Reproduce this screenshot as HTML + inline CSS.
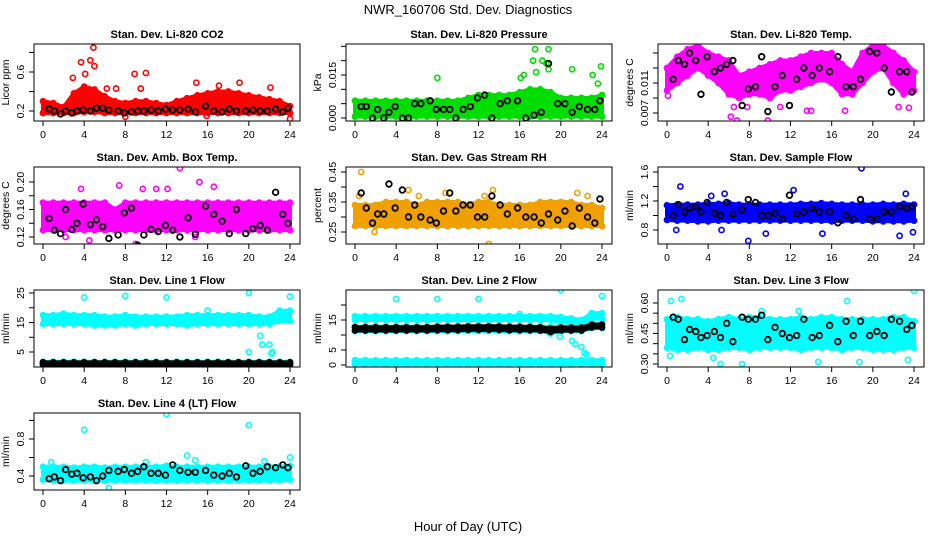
<!DOCTYPE html>
<html><head><meta charset="utf-8">
<style>
body{margin:0;background:#fff;}
svg{display:block;font-family:"Liberation Sans",sans-serif;}
</style></head>
<body>
<svg id="chart" width="936" height="540" viewBox="0 0 936 540" xmlns="http://www.w3.org/2000/svg">
<rect width="936" height="540" fill="#fff"/>
<text x="468" y="14" font-size="13" text-anchor="middle">NWR_160706  Std. Dev. Diagnostics</text>
<text x="468" y="531" font-size="13" text-anchor="middle">Hour of Day (UTC)</text>
</svg>
<script>
const hours = [0,1,2,3,4,5,6,7,8,9,10,11,12,13,14,15,16,17,18,19,20,21,22,23,24];
const blackHours = [0.6,1.1,1.7,2.2,2.8,3.3,3.9,4.6,5.2,5.8,6.4,7.3,7.9,8.6,9.2,9.8,10.5,11.2,11.9,12.6,13.3,14.1,14.8,15.8,16.6,17.4,18.1,18.8,19.7,20.4,21.1,21.8,22.6,23.3,23.8];
const xTicks = [0,4,8,12,16,20,24];

// Panel 1: CO2
const co2Lo = [0.18,0.18,0.18,0.18,0.19,0.19,0.18,0.18,0.18,0.18,0.18,0.18,0.18,0.18,0.18,0.18,0.18,0.18,0.18,0.18,0.18,0.18,0.18,0.18,0.18];
const co2Hi = [0.30,0.28,0.24,0.38,0.45,0.42,0.35,0.30,0.28,0.30,0.30,0.28,0.26,0.30,0.33,0.36,0.38,0.40,0.40,0.38,0.36,0.34,0.32,0.30,0.25];
const co2OutH = [4.9,4.6,3.7,5.0,4.1,2.9,8.9,10,14.9,19.1,17.1,22.1,24,8,15.9,6.2,7.1,9.5];
const co2OutV = [0.85,0.72,0.70,0.66,0.58,0.54,0.58,0.59,0.49,0.49,0.46,0.44,0.12,0.14,0.15,0.43,0.43,0.43];
const co2Black = [0.22,0.2,0.17,0.2,0.18,0.2,0.21,0.2,0.23,0.23,0.21,0.2,0.18,0.19,0.2,0.2,0.21,0.2,0.22,0.21,0.21,0.22,0.19,0.25,0.2,0.19,0.22,0.2,0.2,0.21,0.2,0.2,0.22,0.19,0.23];

// Panel 2: Pressure
const prLo = [0.0005,0.0005,0.0005,0.0005,0.0005,0.0005,0.0005,0.0005,0.0005,0.0005,0.0005,0.0005,0.0005,0.0005,0.0005,0.0005,0.0005,0.0005,0.0005,0.0005,0.0005,0.0005,0.0005,0.0005,0.0005];
const prHi = [0.006,0.006,0.006,0.006,0.006,0.006,0.006,0.006,0.006,0.006,0.006,0.007,0.008,0.008,0.008,0.008,0.009,0.010,0.010,0.009,0.007,0.007,0.007,0.007,0.008];
const prOutH = [17.5,18.8,17.3,18.2,18.6,17.6,18.8,8,16.1,16.4,21.1,23.9,23.1,23.6];
const prOutV = [0.024,0.024,0.020,0.020,0.019,0.016,0.017,0.014,0.014,0.015,0.017,0.018,0.015,0.012];
const prBlack = [0.004,0.004,0.0,0.003,0.0,0.002,0.004,0.0,0.0,0.005,0.005,0.006,0.003,0.003,0.003,0.0,0.003,0.004,0.007,0.008,0.0,0.005,0.006,0.006,0.0,0.001,0.002,0.019,0.005,0.005,0.002,0.004,0.003,0.003,0.006];

// Panel 3: Li-820 Temp
const ltLo = [0.010,0.011,0.012,0.013,0.012,0.011,0.0095,0.009,0.0095,0.0095,0.009,0.010,0.010,0.0105,0.011,0.0115,0.011,0.0095,0.0095,0.011,0.0125,0.013,0.011,0.0095,0.010];
const ltHi = [0.013,0.0145,0.0155,0.016,0.015,0.0145,0.014,0.012,0.0125,0.013,0.0135,0.014,0.014,0.0145,0.015,0.015,0.015,0.0135,0.0125,0.015,0.016,0.016,0.015,0.014,0.0125];
const ltOutH = [0.1,6.2,6.8,9.8,13.6,14,17.3,22.5,23.5,6.5,7.8,11];
const ltOutV = [0.0093,0.0065,0.006,0.006,0.0073,0.0073,0.0073,0.0078,0.0077,0.0078,0.0078,0.0078];
const ltBlack = [0.0115,0.0140,0.0135,0.0150,0.0140,0.0095,0.0145,0.0125,0.0130,0.0135,0.0140,0.0080,0.0102,0.0105,0.0145,0.0072,0.0105,0.0120,0.0080,0.0115,0.0130,0.0120,0.0130,0.0125,0.0145,0.0105,0.0105,0.0115,0.0152,0.0150,0.0130,0.0098,0.0125,0.0125,0.0098];

// Panel 4: Amb box temp
const abLo = [0.13,0.13,0.13,0.13,0.13,0.13,0.13,0.13,0.13,0.13,0.13,0.13,0.13,0.13,0.13,0.13,0.13,0.13,0.13,0.13,0.13,0.13,0.13,0.13,0.13];
const abHi = [0.17,0.17,0.17,0.17,0.17,0.17,0.17,0.16,0.17,0.17,0.17,0.17,0.17,0.17,0.17,0.17,0.17,0.17,0.17,0.17,0.17,0.17,0.17,0.17,0.17];
const abOutH = [13.3,15.2,9.7,11,12.1,14.8,4.5,9,3.7,7.4,16.6,2.2];
const abOutV = [0.22,0.20,0.19,0.19,0.19,0.12,0.115,0.11,0.19,0.195,0.193,0.12];
const abBlack = [0.147,0.130,0.125,0.160,0.131,0.140,0.168,0.138,0.145,0.135,0.118,0.123,0.155,0.162,0.108,0.123,0.131,0.128,0.137,0.130,0.120,0.148,0.124,0.165,0.153,0.143,0.125,0.160,0.125,0.132,0.137,0.130,0.185,0.153,0.140];

// Panel 5: Gas stream RH
const rhLo = [0.27,0.27,0.27,0.27,0.27,0.27,0.27,0.27,0.27,0.27,0.27,0.27,0.27,0.27,0.27,0.27,0.27,0.27,0.27,0.27,0.27,0.27,0.27,0.27,0.27];
const rhHi = [0.34,0.34,0.34,0.35,0.35,0.35,0.34,0.35,0.35,0.35,0.35,0.34,0.35,0.35,0.34,0.34,0.34,0.34,0.35,0.35,0.35,0.35,0.34,0.34,0.33];
const rhOutH = [0.6,5.2,8.8,13.4,13,0.4,1.9,6.2,12.6,21.6,22.6];
const rhOutV = [0.45,0.39,0.38,0.39,0.21,0.37,0.25,0.37,0.37,0.38,0.37];
const rhBlack = [0.38,0.33,0.28,0.31,0.31,0.41,0.33,0.39,0.30,0.34,0.30,0.29,0.28,0.32,0.38,0.32,0.34,0.34,0.30,0.30,0.37,0.34,0.31,0.33,0.30,0.30,0.28,0.31,0.29,0.32,0.27,0.33,0.30,0.28,0.36];

// Panel 6: Sample flow
const sfLo = [0.94,0.93,0.93,0.92,0.92,0.93,0.93,0.93,0.93,0.93,0.93,0.93,0.93,0.93,0.93,0.93,0.92,0.93,0.93,0.93,0.92,0.92,0.92,0.92,0.93];
const sfHi = [1.14,1.15,1.15,1.15,1.16,1.16,1.17,1.15,1.15,1.15,1.15,1.15,1.15,1.16,1.16,1.17,1.16,1.15,1.15,1.15,1.15,1.16,1.15,1.16,1.15];
const sfOutH = [18.9,1.3,12.3,7.9,9.6,15.1,23.9,0.9,5.3,22.6,23.2,5.6,4.3];
const sfOutV = [1.65,1.40,1.35,0.65,0.75,0.75,0.77,0.8,0.8,0.72,1.3,1.3,1.27];
const sfBlack = [1.0,1.15,1.05,1.1,1.12,1.05,1.18,1.03,1.0,1.18,1.02,1.08,1.22,1.18,1.0,1.0,1.03,0.95,1.28,1.02,1.05,1.1,1.05,1.05,0.9,1.0,0.95,1.22,0.95,0.95,1.05,1.05,1.12,1.1,1.12];

// Panel 7: Line 1 flow
const l1UpLo = [14.5,14.5,14.5,14.5,14.5,14,14,14,14.5,14,14.5,14.5,14.5,14.5,14,14.5,14.5,14.5,14.5,14.5,14.5,14.5,14.5,15.5,15.5];
const l1UpHi = [17.5,17.5,18,17.5,17.5,17.5,17,17,17.5,17,17,17,17,17,17.5,17.5,17.5,17.5,17.5,17.5,17.5,17,17,19,19];
const l1LoLo = [0.8,0.8,0.8,0.8,0.8,0.8,0.8,0.8,0.8,0.8,0.8,0.8,0.8,0.8,0.8,0.8,0.8,0.8,0.8,0.8,0.8,0.8,0.8,0.8,0.8];
const l1LoHi = [1.7,1.7,1.7,1.7,1.7,1.7,1.7,1.7,1.7,1.7,1.7,1.7,1.7,1.7,1.7,1.7,1.7,1.7,1.7,1.7,1.7,1.7,1.7,1.7,1.7];
const l1BlkLo = [0.7,0.7,0.7,0.7,0.7,0.7,0.7,0.7,0.7,0.7,0.7,0.7,0.7,0.7,0.7,0.7,0.7,0.7,0.7,0.7,0.7,0.7,0.7,0.7,0.7];
const l1BlkHi = [1.5,1.5,1.5,1.5,1.5,1.5,1.5,1.5,1.5,1.5,1.5,1.5,1.5,1.5,1.5,1.5,1.5,1.5,1.5,1.5,1.5,1.5,1.5,1.5,1.5];
const l1OutH = [4,8,12,20,24,21.1,21.3,22,22.3,20,22.2,16];
const l1OutV = [23.5,24,23.5,25,23.8,10.5,7.5,7.5,5,5,4.5,19];

// Panel 8: Line 2 flow
const l2UpLo = [15,15,15,15,15,15,15,15,15,15,15,15,15,15,15,15,15,15,15,15,14.5,14,13.5,15.5,15.5];
const l2UpHi = [16.3,16.3,16.3,16.3,16.3,16.3,16.3,16.3,16.3,16.3,16.3,16.3,16.3,16.3,16.3,16.3,16.3,16.3,16.3,16.3,16,15.5,15,17.3,17.3];
const l2MidLo = [11.3,11.3,11.3,11.3,11.3,11.3,11.3,11.3,11.3,11.3,11.3,11.3,11.3,11.3,11.3,11.3,11.3,11.3,11.3,10.5,11.3,11.3,11.3,12.3,12.3];
const l2MidHi = [12.8,12.8,12.8,12.8,12.8,12.8,12.8,12.8,12.8,12.8,12.8,12.8,12.8,12.8,12.8,12.8,12.8,12.8,12.8,12.8,12.8,12.8,12.8,13.8,13.8];
const l2LoLo = [0.3,0.3,0.3,0.3,0.3,0.3,0.3,0.3,0.3,0.3,0.3,0.3,0.3,0.3,0.3,0.3,0.3,0.3,0.3,0.3,0.3,0.3,0.3,0.3,0.3];
const l2LoHi = [1.6,1.6,1.6,1.6,1.6,1.6,1.6,1.6,1.6,1.6,1.6,1.6,1.6,1.6,1.6,1.6,1.6,1.6,1.6,1.6,1.6,1.6,1.6,1.6,1.6];
const l2BlkLo = [11.5,11.5,11.5,11.5,11.5,11.5,11.5,11.5,11.6,11.6,11.6,11.7,11.7,11.7,11.7,11.6,11.6,11.6,11.5,11,11.4,11.5,11.5,12.5,12.5];
const l2BlkHi = [12.6,12.6,12.6,12.6,12.6,12.6,12.6,12.6,12.8,12.8,12.8,12.9,12.9,12.9,12.9,12.8,12.8,12.7,12.6,12.2,12.5,12.5,12.5,13.5,13.5];
const l2OutH = [4,8,12,20,24,16,19.9,21.1,21.4,22,22.3,22.5];
const l2OutV = [22,22,22,25,23,17,9.5,8,7,6,4,3.5];

// Panel 9: Line 3 flow
const l3Lo = [0.38,0.37,0.37,0.38,0.37,0.37,0.38,0.38,0.37,0.38,0.38,0.38,0.38,0.37,0.38,0.38,0.38,0.37,0.38,0.38,0.37,0.37,0.37,0.38,0.38];
const l3Hi = [0.52,0.53,0.52,0.52,0.51,0.52,0.53,0.52,0.53,0.53,0.52,0.52,0.52,0.53,0.52,0.53,0.53,0.52,0.52,0.52,0.52,0.52,0.53,0.53,0.51];
const l3OutH = [24,1.4,0.4,17.5,5.2,7.3,14.7,18.7,23.4,0.3,4.5,9.2,12.8];
const l3OutV = [0.66,0.62,0.61,0.61,0.30,0.30,0.31,0.31,0.32,0.34,0.33,0.56,0.56];
const l3Black = [0.53,0.52,0.42,0.47,0.46,0.43,0.44,0.46,0.43,0.50,0.41,0.53,0.52,0.52,0.54,0.42,0.48,0.45,0.43,0.44,0.52,0.43,0.44,0.49,0.41,0.51,0.44,0.51,0.44,0.46,0.44,0.52,0.51,0.47,0.49];

// Panel 10: Line 4 flow
const l4Lo = [0.36,0.35,0.35,0.35,0.35,0.35,0.35,0.35,0.35,0.35,0.35,0.35,0.35,0.35,0.35,0.35,0.35,0.35,0.35,0.35,0.35,0.35,0.35,0.35,0.36];
const l4Hi = [0.50,0.50,0.50,0.49,0.50,0.50,0.49,0.50,0.50,0.50,0.50,0.50,0.51,0.50,0.50,0.50,0.50,0.50,0.50,0.50,0.50,0.50,0.50,0.50,0.51];
const l4OutH = [12,4,20,14,24,6.4,14.8,21.5,0.8,10];
const l4OutV = [1.07,0.90,0.95,0.62,0.60,0.27,0.57,0.56,0.55,0.55];
const l4Black = [0.37,0.39,0.35,0.47,0.42,0.43,0.38,0.39,0.35,0.40,0.46,0.45,0.47,0.43,0.45,0.50,0.43,0.43,0.41,0.52,0.46,0.44,0.44,0.46,0.41,0.40,0.43,0.39,0.51,0.43,0.45,0.50,0.49,0.52,0.49];

const NS = "http://www.w3.org/2000/svg";
const svg = document.getElementById('chart');
function mk(tag, attrs, parent){
  const e = document.createElementNS(NS, tag);
  for (const k in attrs) e.setAttribute(k, attrs[k]);
  (parent||svg).appendChild(e);
  return e;
}

const panels = [
 {name:'co2', title:'Stan. Dev. Li-820 CO2', ylab:'Licor ppm', col:0,row:0, ya:[0.2,111,0.6,72], ticks:[0.2,0.4,0.6,0.8], labels:[0.2,0.6], fmt:1, color:'#ff0000',
   bands:[[co2Lo,co2Hi,'#ff0000']], out:[co2OutH,co2OutV], black:co2Black},
 {name:'pressure', title:'Stan. Dev. Li-820 Pressure', ylab:'kPa', col:1,row:0, ya:[0,118,0.015,75], ticks:[0,0.005,0.01,0.015,0.02,0.025], labels:[0,0.015], fmt:3, color:'#00dd00',
   bands:[[prLo,prHi,'#00dd00']], out:[prOutH,prOutV], black:prBlack},
 {name:'li820-temp', title:'Stan. Dev. Li-820 Temp.', ylab:'degrees C', col:2,row:0, ya:[0.007,113,0.011,83], ticks:[0.007,0.009,0.011,0.013,0.015], labels:[0.007,0.011], fmt:3, color:'#ff00ff',
   bands:[[ltLo,ltHi,'#ff00ff']], out:[ltOutH,ltOutV], black:ltBlack},
 {name:'amb-box-temp', title:'Stan. Dev. Amb. Box Temp.', ylab:'degrees C', col:0,row:1, ya:[0.12,237,0.20,182], ticks:[0.12,0.14,0.16,0.18,0.20], labels:[0.12,0.16,0.20], fmt:2, color:'#ff00ff',
   bands:[[abLo,abHi,'#ff00ff']], out:[abOutH,abOutV], black:abBlack},
 {name:'gas-stream-rh', title:'Stan. Dev. Gas Stream RH', ylab:'percent', col:1,row:1, ya:[0.25,232,0.45,172], ticks:[0.25,0.30,0.35,0.40,0.45], labels:[0.25,0.35,0.45], fmt:2, color:'#f0a000',
   bands:[[rhLo,rhHi,'#f0a000']], out:[rhOutH,rhOutV], black:rhBlack},
 {name:'sample-flow', title:'Stan. Dev. Sample Flow', ylab:'ml/min', col:2,row:1, ya:[0.8,230,1.6,172], ticks:[0.8,1.0,1.2,1.4,1.6], labels:[0.8,1.2,1.6], fmt:1, color:'#0000ff',
   bands:[[sfLo,sfHi,'#0000ff']], out:[sfOutH,sfOutV], black:sfBlack},
 {name:'line1-flow', title:'Stan. Dev. Line 1 Flow', ylab:'ml/min', col:0,row:2, ya:[5,352,25,293], ticks:[5,10,15,20,25], labels:[5,15,25], fmt:0, color:'#00ffff',
   bands:[[l1UpLo,l1UpHi,'#00ffff'],[l1LoLo,l1LoHi,'#00ffff'],[l1BlkLo,l1BlkHi,'#000000']], out:[l1OutH,l1OutV], black:null},
 {name:'line2-flow', title:'Stan. Dev. Line 2 Flow', ylab:'ml/min', col:1,row:2, ya:[0,365,15,320], ticks:[0,5,10,15,20], labels:[0,5,15], fmt:0, color:'#00ffff',
   bands:[[l2UpLo,l2UpHi,'#00ffff'],[l2MidLo,l2MidHi,'#00ffff'],[l2LoLo,l2LoHi,'#00ffff'],[l2BlkLo,l2BlkHi,'#000000']], out:[l2OutH,l2OutV], black:null},
 {name:'line3-flow', title:'Stan. Dev. Line 3 Flow', ylab:'ml/min', col:2,row:2, ya:[0.30,364,0.60,303], ticks:[0.30,0.35,0.40,0.45,0.50,0.55,0.60], labels:[0.30,0.45,0.60], fmt:2, color:'#00ffff',
   bands:[[l3Lo,l3Hi,'#00ffff']], out:[l3OutH,l3OutV], black:l3Black},
 {name:'line4-flow', title:'Stan. Dev. Line 4 (LT) Flow', ylab:'ml/min', col:0,row:3, ya:[0.4,476,0.8,439], ticks:[0.4,0.6,0.8,1.0], labels:[0.4,0.8], fmt:1, color:'#00ffff',
   bands:[[l4Lo,l4Hi,'#00ffff']], out:[l4OutH,l4OutV], black:l4Black}
];

panels.forEach(p=>{
  const left = 34 + 312*p.col, right = left + 266;
  const top = 44 + 123*p.row, bottom = top + 77;
  const xs = h => left + 9 + h*(247/24);
  const ys = v => p.ya[1] + (v - p.ya[0])*(p.ya[3]-p.ya[1])/(p.ya[2]-p.ya[0]);
  const clip = 'clip-' + p.name;
  const g = mk('g', {});
  
  
  const cp = mk('clipPath', {id:clip}, g);
  mk('rect', {x:left, y:top, width:266, height:77}, cp);
  const pg = mk('g', {'clip-path':'url(#'+clip+')'}, g);
  
  
  p.bands.forEach((b, bi)=>{
    const lo=b[0], hi=b[1], c=b[2];
    let pts = hours.map((h,i)=>xs(h)+','+ys(hi[i]));
    pts = pts.concat(hours.slice().reverse().map((h,j)=>{const i=hours.length-1-j; return xs(h)+','+ys(lo[i]);}));
    const poly = mk('polygon', {points:pts.join(' '), fill:c, stroke:c, 'stroke-width':4, 'stroke-linejoin':'round'}, pg);
    
    
    hours.forEach((h,i)=>{
      [lo[i], hi[i]].forEach(v=>{
        const c1 = mk('circle', {cx:xs(h), cy:ys(v), r:2.6, fill:'none', stroke:c, 'stroke-width':1.6}, pg);
        
        
      });
    });
  });
  p.out[0].forEach((h,i)=>{
    const c2 = mk('circle', {cx:xs(h), cy:ys(p.out[1][i]), r:2.6, fill:'none', stroke:p.color, 'stroke-width':1.6}, pg);
    
    
  });
  if (p.black) p.black.forEach((v,i)=>{
    const c3 = mk('circle', {cx:xs(blackHours[i]), cy:ys(v), r:2.8, fill:'none', stroke:'#000', 'stroke-width':1.8}, pg);
    
    
  });
  const box = mk('rect', {x:left, y:top, width:266, height:77, fill:'none', stroke:'#000', 'stroke-width':1}, g);
  
  
  const t = mk('text', {x:(left+right)/2, y:top-6, 'font-size':11, 'font-weight':'bold', 'text-anchor':'middle'}, g);
  t.textContent = p.title;
  
  
  xTicks.forEach(h=>{
    mk('line', {x1:xs(h), x2:xs(h), y1:bottom, y2:bottom+5, stroke:'#000'}, g);
    const tl = mk('text', {x:xs(h), y:bottom+17, 'font-size':10.5, 'text-anchor':'middle'}, g);
    tl.textContent = h;
    
    
  });
  p.ticks.forEach(v=>{
    mk('line', {x1:left, x2:left-5, y1:ys(v), y2:ys(v), stroke:'#000'}, g);
  });
  p.labels.forEach(v=>{
    const yy = ys(v), xx = left-10;
    const yl = mk('text', {x:xx, y:yy, 'font-size':10.5, 'text-anchor':'middle', transform:'rotate(-90 '+xx+' '+yy+')'}, g);
    yl.textContent = v.toFixed(p.fmt);
    
    
  });
  const ax = left-25, ay = (top+bottom)/2;
  const ylab = mk('text', {x:ax, y:ay, 'font-size':10.5, 'text-anchor':'middle', transform:'rotate(-90 '+ax+' '+ay+')'}, g);
  ylab.textContent = p.ylab;
  
  
});
</script>
</body></html>
